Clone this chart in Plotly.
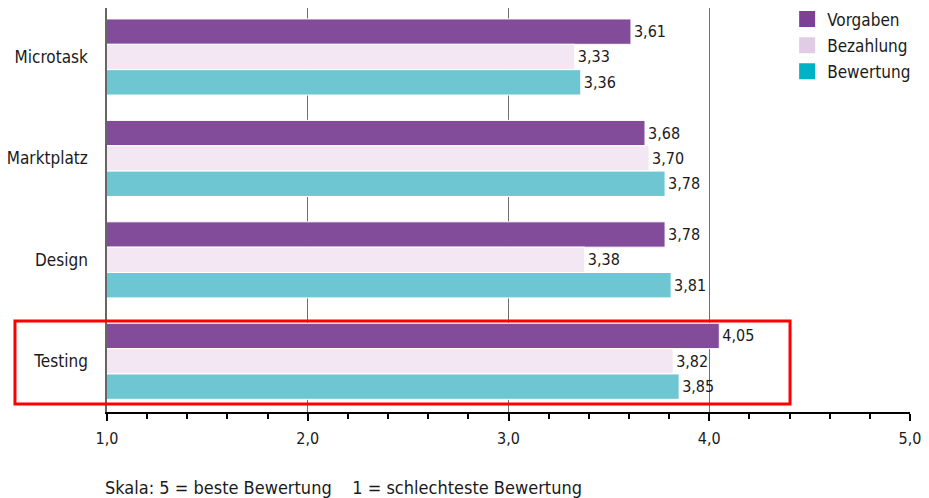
import plotly.graph_objects as go

categories = ["Microtask", "Marktplatz", "Design", "Testing"]
series_names = ["Vorgaben", "Bezahlung", "Bewertung"]
vorgaben = [3.61, 3.68, 3.78, 4.05]
bezahlung = [3.33, 3.70, 3.38, 3.82]
bewertung = [3.36, 3.78, 3.81, 3.85]
tick_values = [1, 2, 3, 4, 5]
tick_labels = ["1,0", "2,0", "3,0", "4,0", "5,0"]

bar_colors = ["#824C9B", "#F3E7F4", "#6EC6D3"]
legend_colors = ["#7D3F98", "#E1CCE5", "#00B2C6"]
FONT = "DejaVu Sans Condensed, DejaVu Sans, sans-serif"

def f(size):
    return dict(family=FONT, size=size, color="#1a1a1a")

fig = go.Figure()
for name, vals, col in zip(series_names, [vorgaben, bezahlung, bewertung], bar_colors):
    fig.add_trace(go.Bar(
        y=categories, x=vals, orientation="h", name=name,
        marker=dict(color=col, line=dict(color="white", width=1)),
        texttemplate="%{x:.2f}", textposition="outside",
        textfont=f(16), cliponaxis=False, showlegend=False,
    ))
for name, col in zip(series_names, legend_colors):
    fig.add_trace(go.Scatter(
        x=[None], y=[None], mode="markers", name=name, legendgroup=name,
        marker=dict(symbol="square", size=16, color=col),
    ))

fig.add_shape(type="rect", xref="paper", yref="paper", x0=-0.1146, x1=0.8506, y0=0.0198, y1=0.2252,
              line=dict(color="#FF0000", width=3), layer="above")

fig.update_layout(
    width=929, height=498,
    margin=dict(l=99, r=27, t=0, b=94, autoexpand=False),
    paper_bgcolor="white", plot_bgcolor="white",
    separators=",.",
    barmode="group", bargap=0.25, bargroupgap=0,
    font=f(16),
    legend=dict(x=0.847, y=1.016, xanchor="left", yanchor="top",
                font=f(17), tracegroupgap=1,
                itemsizing="trace", bgcolor="rgba(0,0,0,0)"),
    xaxis=dict(range=[1, 5], tickvals=tick_values, ticktext=tick_labels,
               showgrid=True, gridcolor="#707070", gridwidth=1,
               showline=True, linecolor="#000000", linewidth=2,
               ticks="outside", ticklen=7, tickwidth=2, tickcolor="#000",
               minor=dict(dtick=0.2, ticks="outside", ticklen=5, tickwidth=1.5, tickcolor="#000", showgrid=False),
               zeroline=False, tickfont=f(16), ticklabelstandoff=4),
    yaxis=dict(range=[3.5, -0.483], showline=True, linecolor="#666666", linewidth=1.5,
               showgrid=False, ticks="", ticklabelstandoff=14, tickfont=f(17)),
    annotations=[dict(text="Skala: 5 = beste Bewertung &nbsp;&nbsp;&nbsp;1 = schlechteste Bewertung",
                      xref="paper", yref="paper", x=-0.005, y=-0.186, xanchor="left", yanchor="middle",
                      showarrow=False, font=f(18))],
)

fig.write_html("out.html")
